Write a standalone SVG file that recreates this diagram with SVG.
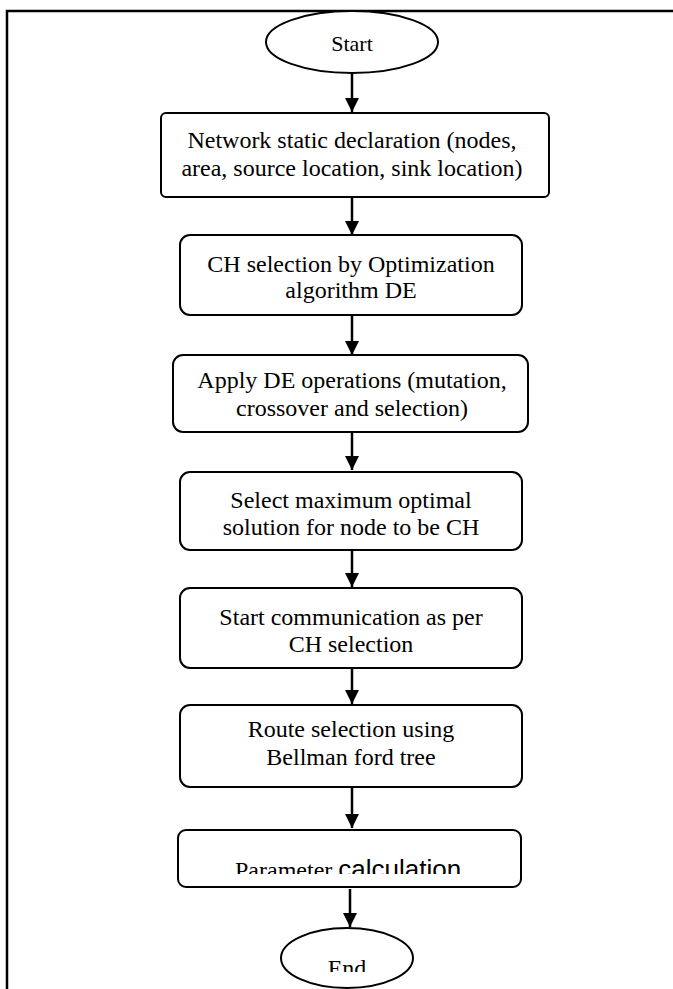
<svg xmlns="http://www.w3.org/2000/svg" width="673" height="989" viewBox="0 0 673 989">
<style>
.box{fill:#fff;stroke:#000;stroke-width:2}
.t{font-family:"Liberation Serif","Times New Roman",serif;font-size:24px;fill:#000;text-anchor:middle}
.s{font-family:"Liberation Sans",Arial,sans-serif;font-size:26px;fill:#000}
.c{stroke:#000;stroke-width:2.5;fill:none}
</style>
<defs>
<marker id="ah" viewBox="0 0 10 10" refX="10" refY="5" markerWidth="5.8" markerHeight="5.8" markerUnits="strokeWidth" orient="auto">
<path d="M0,0 L10,5 L0,10 z" fill="#000"/>
</marker>
<clipPath id="clip7"><rect x="0" y="830" width="673" height="44"/></clipPath>
<clipPath id="clipEnd"><rect x="0" y="928" width="673" height="44"/></clipPath>
</defs>
<g id="frame">
<path d="M7,989 V11 H673" fill="none" stroke="#000" stroke-width="2.5"/>
</g>
<g id="connectors">
<line class="c" x1="352" y1="73" x2="352" y2="112" marker-end="url(#ah)"/>
<line class="c" x1="352" y1="197" x2="352" y2="235" marker-end="url(#ah)"/>
<line class="c" x1="352" y1="315" x2="352" y2="355" marker-end="url(#ah)"/>
<line class="c" x1="352" y1="432" x2="352" y2="470" marker-end="url(#ah)"/>
<line class="c" x1="352" y1="550" x2="352" y2="587" marker-end="url(#ah)"/>
<line class="c" x1="352" y1="668" x2="352" y2="704" marker-end="url(#ah)"/>
<line class="c" x1="352" y1="787" x2="352" y2="828" marker-end="url(#ah)"/>
<line class="c" x1="350" y1="889" x2="350" y2="927" marker-end="url(#ah)"/>
</g>
<g id="start">
<ellipse cx="352" cy="42" rx="86" ry="31" fill="#fff" stroke="#000" stroke-width="2"/>
<text class="t" x="352" y="51" style="font-size:22px">Start</text>
</g>
<g id="n1">
<rect class="box" x="161" y="113" width="388" height="84" rx="5"/>
<text class="t" x="352" y="148">Network static declaration (nodes,</text>
<text class="t" x="352" y="176">area, source location, sink location)</text>
</g>
<g id="n2">
<rect class="box" x="180" y="235" width="342" height="80" rx="10"/>
<text class="t" x="351" y="272">CH selection by Optimization</text>
<text class="t" x="351" y="298">algorithm DE</text>
</g>
<g id="n3">
<rect class="box" x="173" y="355" width="355" height="77" rx="10"/>
<text class="t" x="352" y="388">Apply DE operations (mutation,</text>
<text class="t" x="352" y="416">crossover and selection)</text>
</g>
<g id="n4">
<rect class="box" x="180" y="472" width="342" height="78" rx="10"/>
<text class="t" x="351" y="508">Select maximum optimal</text>
<text class="t" x="351" y="535">solution for node to be CH</text>
</g>
<g id="n5">
<rect class="box" x="180" y="588" width="342" height="80" rx="10"/>
<text class="t" x="351" y="625">Start communication as per</text>
<text class="t" x="351" y="652">CH selection</text>
</g>
<g id="n6">
<rect class="box" x="180" y="705" width="342" height="82" rx="10"/>
<text class="t" x="351" y="737">Route selection using</text>
<text class="t" x="351" y="765">Bellman ford tree</text>
</g>
<g id="n7">
<rect class="box" x="178" y="830" width="343" height="57" rx="8"/>
<g clip-path="url(#clip7)">
<text x="235" y="878"><tspan style="font-family:'Liberation Serif','Times New Roman',serif;font-size:24px">Parameter </tspan><tspan class="s">calculation</tspan></text>
</g>
</g>
<g id="end">
<ellipse cx="347" cy="958" rx="66" ry="30" fill="#fff" stroke="#000" stroke-width="2"/>
<g clip-path="url(#clipEnd)">
<text class="t" x="347" y="976">End</text>
</g>
</g>
</svg>
